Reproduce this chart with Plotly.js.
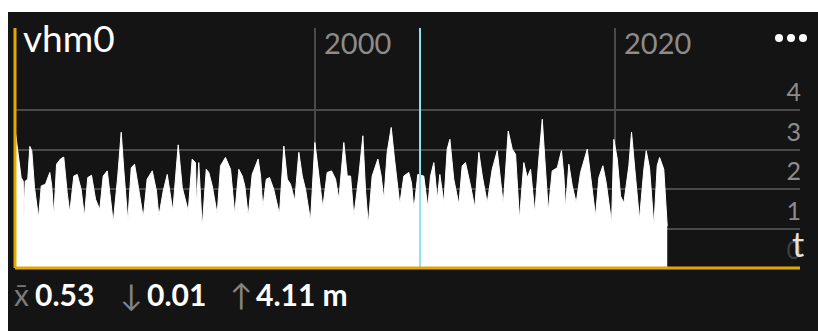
<!DOCTYPE html>
<html><head><meta charset="utf-8">
<script src="https://cdn.plot.ly/plotly-3.0.1.min.js"></script>
<style>
html,body{margin:0;padding:0;background:#ffffff;width:818px;height:331px;overflow:hidden;}
#chart{position:absolute;left:8px;top:12px;width:810px;height:319px;}
</style></head><body><div id="chart"></div>
<script>
// ---- data ----
const years = [
1980.00,1980.25,1980.41,1980.55,1980.59,1980.68,1980.85,1980.99,1981.12,1981.30,1981.57,1981.75,
1982.03,1982.32,1982.45,1982.59,1982.77,1983.03,1983.25,1983.48,1983.65,1983.92,1984.15,1984.41,
1984.63,1984.85,1985.10,1985.37,1985.65,1985.88,1986.15,1986.32,1986.55,1986.85,1987.08,1987.25,
1987.52,1987.75,1987.97,1988.23,1988.55,1988.81,1989.15,1989.43,1989.59,1989.88,1990.15,1990.37,
1990.52,1990.88,1991.15,1991.55,1991.81,1992.03,1992.10,1992.25,1992.48,1992.75,1992.92,1993.15,
1993.48,1993.70,1994.03,1994.37,1994.65,1994.92,1995.15,1995.32,1995.55,1995.81,1996.21,1996.37,
1996.52,1996.75,1996.97,1997.25,1997.63,1997.92,1998.15,1998.37,1998.65,1998.92,1999.15,1999.37,
1999.70,1999.99,2000.21,2000.52,2000.81,2001.10,2001.37,2001.59,2001.92,2002.15,2002.37,2002.59,
2002.92,2003.19,2003.37,2003.55,2003.81,2004.19,2004.41,2004.59,2004.81,2005.08,2005.30,2005.48,
2005.65,2005.92,2006.25,2006.43,2006.59,2006.85,2007.25,2007.52,2007.70,2007.92,2008.15,2008.32,
2008.59,2008.81,2008.99,2009.25,2009.59,2009.81,2010.03,2010.37,2010.65,2010.92,2011.15,2011.48,
2011.81,2012.15,2012.32,2012.55,2012.88,2013.15,2013.37,2013.63,2013.92,2014.15,2014.37,2014.65,
2014.92,2015.15,2015.32,2015.55,2015.81,2016.15,2016.43,2016.59,2016.70,2016.92,2017.15,2017.41,
2017.70,2017.92,2018.15,2018.37,2018.70,2018.92,2019.19,2019.41,2019.77,2019.92,2020.15,2020.37,
2020.59,2020.92,2021.10,2021.32,2021.63,2021.92,2022.08,2022.30,2022.59,2022.81,2022.97,2023.25,
2023.48
];
const vhm0 = [
3.52,2.75,2.29,2.20,1.27,2.20,2.25,3.08,2.97,2.04,1.27,2.08,
2.12,2.42,2.08,1.31,2.63,2.76,2.81,1.91,1.40,2.33,2.37,1.99,
1.30,2.29,2.35,1.74,1.48,2.33,2.46,1.91,1.15,2.33,3.44,2.50,
1.19,2.54,2.63,2.04,1.27,2.25,2.46,1.95,1.31,1.95,2.37,1.82,
1.44,3.12,2.04,1.44,2.76,2.67,1.57,2.67,1.02,2.50,2.42,2.08,
1.36,2.59,2.80,2.50,1.36,2.50,2.33,2.08,1.31,2.37,2.76,2.33,
1.53,2.25,2.29,1.99,1.36,3.09,2.25,2.12,1.70,2.93,2.33,1.99,
1.19,3.18,2.46,1.53,2.42,2.46,2.25,1.74,3.18,2.33,2.33,1.31,
2.33,3.35,1.95,1.10,2.33,2.76,2.33,1.74,2.93,3.56,2.76,2.08,
1.61,2.33,2.42,2.16,1.48,2.37,2.33,1.53,2.33,2.67,1.74,2.37,
1.65,3.01,3.26,2.25,1.61,2.59,2.67,2.08,1.53,2.93,2.33,1.65,
2.50,2.97,2.33,1.61,3.47,3.01,2.88,1.23,2.67,2.29,2.50,1.40,
2.76,3.77,2.76,1.44,2.46,2.54,2.97,2.33,1.53,2.63,2.08,1.65,
2.42,2.71,3.01,2.33,1.31,2.29,2.59,2.16,1.15,3.26,2.76,1.82,
1.65,2.59,3.44,2.50,1.23,2.50,2.97,2.54,1.06,2.59,2.80,2.50,
1.06
];
const xTickVals = [2000, 2020];
const xTickText = ['2000', '2020'];
const yTickVals = [0, 1, 2, 3, 4];
const yTickText = ['<span style="color:#3e3e3e">0</span>', '1', '2', '3', '4'];
const cursorYear = [2007.0];
const statLabels = ['x\u0304', '\u2193', '\u2191'];
const statValues = ['0.53', '0.01', '4.11 m'];
const seriesName = 'vhm0';
const unitLabel = 't';

// ---- layout helpers (page pixel -> plot-area fraction) ----
const L = 14.5, R = 800, T = 28, B = 268.3;
const px = x => (x - L) / (R - L);
const py = y => (B - y) / (B - T);

const FONT = 'Lato, "Open Sans", sans-serif';
const annotations = [];
function txt(text, xLeft, yCenter, size, color, weight, anchor) {
  annotations.push({
    text: text, xref: 'paper', yref: 'paper', x: px(xLeft), y: py(yCenter),
    xanchor: anchor || 'left', yanchor: 'middle', showarrow: false,
    font: {family: FONT, size: size, color: color, weight: weight || 'normal'}
  });
}
// bottom stats
txt(statLabels[0], 11, 294, 30, '#7a7a7a');
txt(statValues[0], 33, 294, 30, '#ffffff', 'bold');
txt(statLabels[1], 118, 294, 30, '#858585');
txt(statValues[1], 145, 294, 30, '#ffffff', 'bold');
txt(statLabels[2], 228, 294, 30, '#858585');
txt(statValues[2], 254, 294, 30, '#ffffff', 'bold');
// unit glyph at bottom right
txt(unitLabel, 806, 244, 34, '#e2e2e2', 'normal', 'right');

const shapes = [
  {type:'line', xref:'x', yref:'paper', x0:cursorYear[0], x1:cursorYear[0], y0:0, y1:1,
   line:{color:'#8fe3ec', width:2}, layer:'above'},
  {type:'line', xref:'paper', yref:'paper', x0:0, x1:0, y0:0, y1:1,
   line:{color:'#e0a800', width:3}, layer:'above'},
  {type:'line', xref:'paper', yref:'paper', x0:0, x1:1, y0:0, y1:0,
   line:{color:'#e0a800', width:3}, layer:'above'}
];
[779, 791, 803].forEach(cx => shapes.push({
  type:'circle', xref:'paper', yref:'paper', xsizemode:'pixel', ysizemode:'pixel',
  xanchor: px(cx), yanchor: py(38), x0:-4, x1:4, y0:-4, y1:4,
  fillcolor:'#ffffff', line:{width:0}, layer:'above'
}));

const trace = {
  type:'scatter', mode:'lines', x: years, y: vhm0, name: seriesName,
  line:{color:'#ffffff', width:1}, fill:'tozeroy', fillcolor:'#ffffff',
  hoverinfo:'skip'
};

const layout = {
  width: 810, height: 319,
  margin: {l: 6.5, r: 18, t: 16, b: 62.7, pad: 0},
  paper_bgcolor: '#141414', plot_bgcolor: '#141414',
  showlegend: false,
  title: {text: seriesName, xref:'container', yref:'container',
          x: (23 - 8) / 810, xanchor:'left', y: 1 - (39.5 - 12) / 319, yanchor:'middle',
          font:{family: FONT, size: 37, color:'#ffffff'}},
  xaxis: {range:[1980, 2032.33], side:'top', tickvals:xTickVals, ticktext:xTickText,
          ticklabelposition:'inside right', ticks:'', ticklabelshift: 9,
          tickfont:{family:FONT, size:29, color:'#8c8c8c'},
          showgrid:true, gridcolor:'#4a4a4a', gridwidth:2, zeroline:false, showline:false,
          fixedrange:true},
  yaxis: {range:[0, 6.08], side:'right', tickvals:yTickVals, ticktext:yTickText,
          ticklabelposition:'inside top', ticks:'', ticklabelstandoff: -4,
          tickfont:{family:FONT, size:25, color:'#8c8c8c'},
          showgrid:true, gridcolor:'#4a4a4a', gridwidth:2, zeroline:false, showline:false,
          fixedrange:true},
  shapes: shapes,
  annotations: annotations
};

Plotly.newPlot('chart', [trace], layout, {staticPlot:true, displayModeBar:false});
</script></body></html>
